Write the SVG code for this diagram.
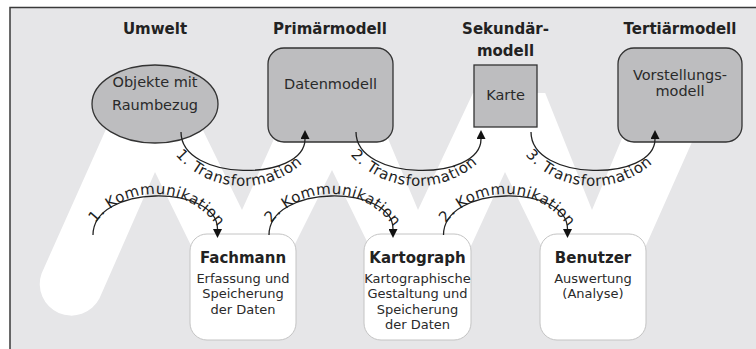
<svg xmlns="http://www.w3.org/2000/svg" xmlns:xlink="http://www.w3.org/1999/xlink" width="756" height="349" viewBox="0 0 756 349">
<style>
.title{font-family:"DejaVu Sans",Verdana,sans-serif;font-weight:bold;font-size:15px;fill:#222;text-anchor:middle}
.lbl{font-family:"DejaVu Sans",Verdana,sans-serif;font-size:14.5px;fill:#2a2a2a;text-anchor:middle}
.sub{font-family:"DejaVu Sans",Verdana,sans-serif;font-size:13px;fill:#2a2a2a;text-anchor:middle}
.arc{font-family:"DejaVu Sans",Verdana,sans-serif;font-size:15px;fill:#1e1e1e;text-anchor:middle}
.arcT{letter-spacing:0.6px}
.arcK{letter-spacing:0.4px}
.top{fill:#bdbdbf;stroke:#333;stroke-width:1.3}
.bot{fill:#fff;stroke:#c4c4c4;stroke-width:1}
.con{fill:none;stroke:#222;stroke-width:1.3;marker-end:url(#ah)}
</style>
<defs>
<marker id="ah" viewBox="0 0 10 10" refX="0" refY="5" markerWidth="9" markerHeight="9" markerUnits="userSpaceOnUse" orient="auto">
<path d="M0,0 L10,5 L0,10 z" fill="#111"/>
</marker>
<path id="pt1" d="M154,97 A89,89 0 0 0 332,97"/>
<path id="pt2" d="M329,97 A89,89 0 0 0 507,97"/>
<path id="pt3" d="M504,97 A89,89 0 0 0 682,97"/>
<path id="pk1" d="M79,270 A76,76 0 0 1 231,270"/>
<path id="pk2" d="M255,270 A76,76 0 0 1 407,270"/>
<path id="pk3" d="M429.5,270 A76,76 0 0 1 581.5,270"/>
</defs>
<g id="background">
<rect x="10" y="7" width="746" height="342" fill="#e6e6e8"/>
<path d="M10,349 V7.5 H756" fill="none" stroke="#3a3a3a" stroke-width="1.5"/>
<path d="M41.6,273.4 L122.2,93 L184.7,93 L242,210 L294.7,93 L368.9,93 L418,210 L473,93 L545.2,93 L592,210 L641.1,93 L713.8,93 L605.7,336 L585.4,336 L505,172 L429.6,336 L413.3,336 L332,170 L249,336 L235.4,336 L155,172 L99.4,298.6 A31.6,31.6 0 0 1 41.6,273.4 Z" fill="#fff"/>
</g>
<g id="titles">
<text class="title" x="155" y="33.5">Umwelt</text>
<text class="title" x="330" y="33.5">Primärmodell</text>
<text class="title" x="505.5" y="34">Sekundär-</text>
<text class="title" x="505.5" y="55.5">modell</text>
<text class="title" x="680" y="33.5">Tertiärmodell</text>
</g>
<g id="umwelt">
<ellipse class="top" cx="155" cy="104" rx="63" ry="39"/>
<text class="lbl" x="155" y="86.5">Objekte mit</text>
<text class="lbl" x="155" y="109.5">Raumbezug</text>
</g>
<g id="datenmodell">
<rect class="top" x="268" y="48" width="125" height="94" rx="16"/>
<text class="lbl" x="330.5" y="88.5">Datenmodell</text>
</g>
<g id="karte">
<rect class="top" x="474" y="65" width="63" height="62"/>
<text class="lbl" x="505.5" y="100">Karte</text>
</g>
<g id="vorstellungsmodell">
<rect class="top" x="618" y="48" width="124" height="94" rx="16"/>
<text class="lbl" x="680" y="79.5">Vorstellungs-</text>
<text class="lbl" x="680" y="96">modell</text>
</g>
<g id="fachmann">
<rect class="bot" x="190" y="234" width="106" height="106" rx="17"/>
<text class="title" x="243" y="262.5">Fachmann</text>
<text class="sub" x="243" y="282.5">Erfassung und</text>
<text class="sub" x="243" y="298">Speicherung</text>
<text class="sub" x="243" y="313.5">der Daten</text>
</g>
<g id="kartograph">
<rect class="bot" x="364" y="234" width="107" height="106" rx="17"/>
<text class="title" x="417.5" y="262.5">Kartograph</text>
<text class="sub" x="417.5" y="282.5">Kartographische</text>
<text class="sub" x="417.5" y="298">Gestaltung und</text>
<text class="sub" x="417.5" y="313.5">Speicherung</text>
<text class="sub" x="417.5" y="329">der Daten</text>
</g>
<g id="benutzer">
<rect class="bot" x="540" y="234" width="106" height="106" rx="17"/>
<text class="title" x="593" y="262.5">Benutzer</text>
<text class="sub" x="593" y="282.5">Auswertung</text>
<text class="sub" x="593" y="298">(Analyse)</text>
</g>
<g id="connectors">
<path class="con" d="M181,132 C181,182 305,182 305,139"/>
<path class="con" d="M356,132 C356,182 481,182 481,139"/>
<path class="con" d="M531,132 C531,182 655,182 655,139"/>
<path class="con" d="M93,235 C93,184 217.5,184 217.5,229"/>
<path class="con" d="M269,235 C269,184 393,184 393,229"/>
<path class="con" d="M443.5,235 C443.5,184 567.5,184 567.5,229"/>
<text class="arc arcT"><textPath xlink:href="#pt1" href="#pt1" startOffset="48%">1. Transformation</textPath></text>
<text class="arc arcT"><textPath xlink:href="#pt2" href="#pt2" startOffset="48%">2. Transformation</textPath></text>
<text class="arc arcT"><textPath xlink:href="#pt3" href="#pt3" startOffset="48%">3. Transformation</textPath></text>
<text class="arc arcK"><textPath xlink:href="#pk1" href="#pk1" startOffset="51%">1. Kommunikation</textPath></text>
<text class="arc arcK"><textPath xlink:href="#pk2" href="#pk2" startOffset="51%">2. Kommunikation</textPath></text>
<text class="arc arcK"><textPath xlink:href="#pk3" href="#pk3" startOffset="51%">2. Kommunikation</textPath></text>
</g>
</svg>
